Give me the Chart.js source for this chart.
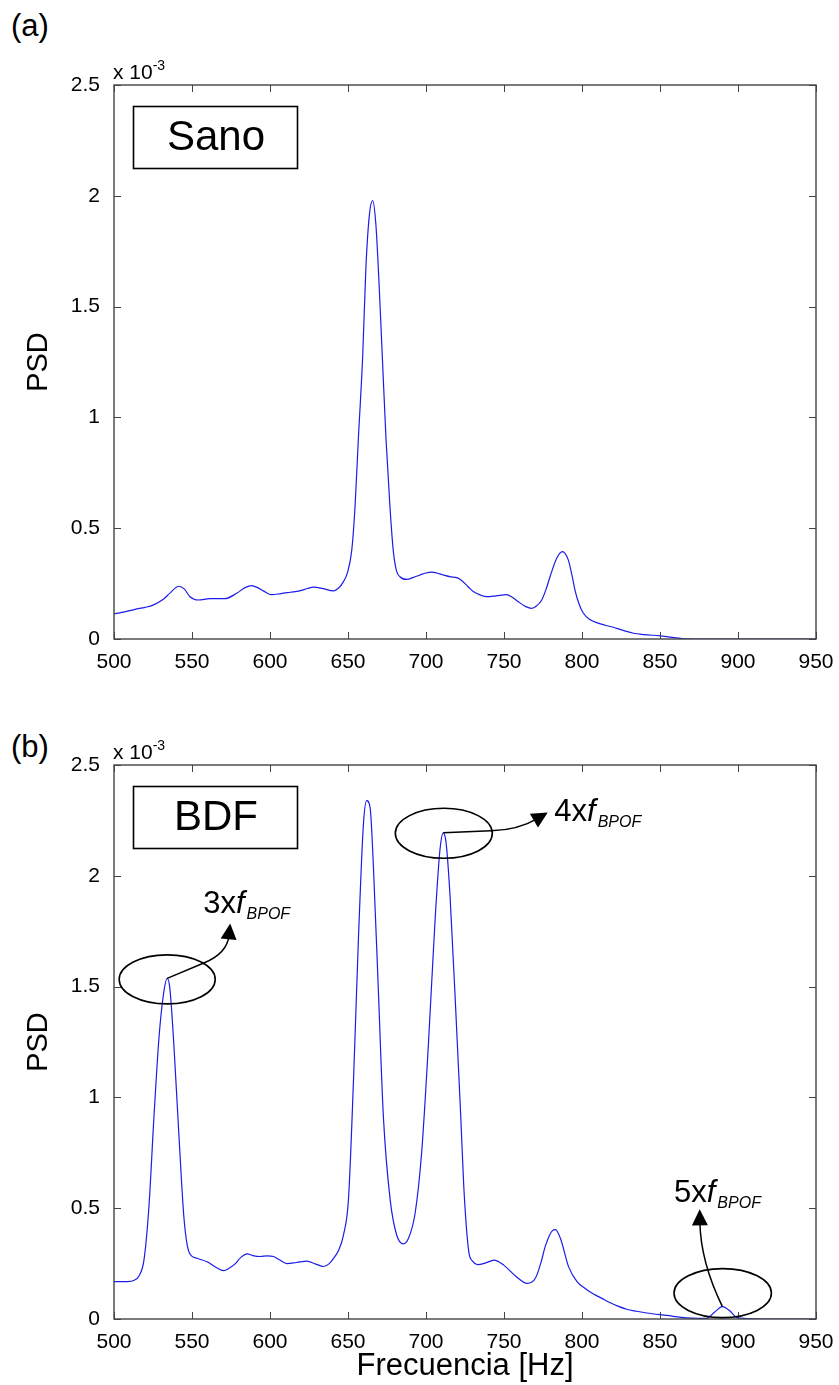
<!DOCTYPE html>
<html>
<head>
<meta charset="utf-8">
<script src="https://cdn.jsdelivr.net/npm/chart.js@4.4.1/dist/chart.umd.min.js"></script>
<style>
  html, body { margin: 0; padding: 0; background: #fff; overflow: hidden; }
  #page { position: relative; width: 839px; height: 1385px; font-family: 'Liberation Sans', Arial, sans-serif; }
  .panel { position: absolute; left: 0; width: 839px; }
  .tag { position: absolute; left: 11px; font-size: 31px; line-height: 31px; color: #000; }
</style>
</head>
<body>
<div id="page">
  <div class="tag" style="top:10px">(a)</div>
  <div class="panel" style="top:0;height:700px"><canvas id="chartSano"></canvas></div>
  <div class="tag" style="top:731px">(b)</div>
  <div class="panel" style="top:700px;height:685px"><canvas id="chartBdf"></canvas></div>
</div>

<script>
// axis ticks (frequency in Hz, PSD in units of 1e-3)
const xTicks = [500, 550, 600, 650, 700, 750, 800, 850, 900, 950];
const yTicks = [0, 0.5, 1, 1.5, 2, 2.5];

// healthy bearing spectrum
const freqSano = [500, 505, 513.5, 520, 525, 531.6, 536, 541.5, 545, 548.7, 554, 561.5, 571, 578.6, 584, 588.2,
  592, 596, 601, 607, 613, 619, 624, 628, 634, 640.5, 644, 647, 649.5, 652.4, 654.5, 656.6, 659.4, 661.5,
  663.7, 665.8, 667.9, 670, 672, 674.4, 676.9, 679, 681, 683.3, 687.6, 692, 696.2, 700, 703.6, 707, 711,
  716, 719.7, 722, 727, 730.3, 735, 739, 745, 751.7, 755, 759.2, 764, 767.7, 771, 774.2, 777, 779.5, 783.8,
  787.4, 791.2, 793.5, 795.5, 798, 800.9, 805, 809.4, 815, 820, 826, 833, 840, 850, 858, 867, 880, 900, 950];
const psdSano = [0.113, 0.120, 0.134, 0.143, 0.153, 0.179, 0.208, 0.238, 0.226, 0.191, 0.176, 0.182, 0.182, 0.206, 0.232, 0.241,
  0.232, 0.216, 0.200, 0.205, 0.211, 0.217, 0.228, 0.234, 0.227, 0.217, 0.230, 0.258, 0.296, 0.40, 0.597, 0.898, 1.274, 1.68,
  1.913, 1.978, 1.868, 1.59, 1.274, 0.898, 0.597, 0.40, 0.31, 0.281, 0.269, 0.278, 0.289, 0.298, 0.302, 0.298, 0.289,
  0.280, 0.277, 0.269, 0.236, 0.214, 0.198, 0.191, 0.195, 0.200, 0.190, 0.168, 0.146, 0.138, 0.150, 0.176, 0.225, 0.281, 0.364,
  0.394, 0.357, 0.29, 0.221, 0.160, 0.116, 0.088, 0.074, 0.062, 0.053, 0.040, 0.026, 0.020, 0.014, 0.007, 0.001, 0, 0, 0];

// outer race defect spectrum
const freqBdf = [500, 508.5, 513, 516, 519.2, 522.4, 525.6, 528.8, 531.6, 534.1, 535.8, 538.4, 541.6, 544.8, 547, 549,
  553.3, 559.7, 565, 570.4, 574, 577.8, 581, 585.3, 589, 593.8, 598, 602.3, 606, 610.9, 617, 623.7, 629, 634.3, 638,
  640.7, 644, 647.1, 650.3, 653.5, 656.7, 659.9, 662, 664.2, 666.3, 669.5, 672.7, 677, 681.2, 685.5, 688.7, 693,
  697.2, 701.5, 705.8, 709, 711.1, 712.8, 715.4, 719.6, 722.3, 724.2, 727.4, 730, 733, 738.3, 743.6, 750, 757.4,
  764.9, 770.2, 773.5, 776.6, 780.9, 783, 786.2, 791.5, 796.8, 802, 807.4, 813, 818.1, 823, 828.7, 835, 841.5,
  854.3, 867.1, 874, 879.8, 885.1, 890, 894.7, 898.9, 905.3, 915, 950];
const psdBdf = [0.169, 0.169, 0.175, 0.194, 0.266, 0.508, 0.911, 1.266, 1.460, 1.537, 1.492, 1.234, 0.831, 0.460, 0.33, 0.290,
  0.274, 0.258, 0.235, 0.218, 0.230, 0.250, 0.276, 0.294, 0.286, 0.282, 0.285, 0.282, 0.267, 0.250, 0.255, 0.261, 0.249, 0.237, 0.250,
  0.274, 0.31, 0.379, 0.540, 1.073, 1.718, 2.234, 2.339, 2.306, 2.040, 1.476, 0.911, 0.540, 0.379, 0.339, 0.363, 0.476,
  0.750, 1.234, 1.798, 2.121, 2.194, 2.153, 1.911, 1.315, 0.911, 0.60, 0.305, 0.26, 0.245, 0.253, 0.266, 0.242, 0.194,
  0.161, 0.185, 0.25, 0.331, 0.398, 0.403, 0.363, 0.234, 0.169, 0.138, 0.113, 0.092, 0.073, 0.058, 0.044, 0.035, 0.027,
  0.016, 0.005, 0.003, 0.003, 0.032, 0.056, 0.037, 0.008, 0.002, 0, 0];

// harmonics of the ball pass frequency marked on the defect spectrum
const bpofOrders = ['3', '4', '5'];
const bpofPeaks = [534.1, 711.1, 890];

// marker geometry in pixels, relative to the peak it points at
const markerStyle = {
  '3': { ell: [0, 1, 48, 24.5], line: [36.6, -15.4], ctrl: [60, -25], tip: [63, -55], text: [36, -65] },
  '4': { ell: [0.5, 0.5, 48.5, 25], line: [47.7, -2], ctrl: [75, -3], tip: [104.4, -20.4], text: [111, -12] },
  '5': { ell: [0.3, -13.5, 48.7, 24.5], line: null, ctrl: [-22, -45], tip: [-22.7, -97.3], text: [-48.4, -104.6] }
};

const FONT = "'Liberation Sans', Arial, sans-serif";

function drawArrowHead(ctx, from, to) {
  const ang = Math.atan2(to[1] - from[1], to[0] - from[0]);
  const len = 16, half = 8;
  ctx.beginPath();
  ctx.moveTo(to[0], to[1]);
  ctx.lineTo(to[0] - len * Math.cos(ang) + half * Math.sin(ang), to[1] - len * Math.sin(ang) - half * Math.cos(ang));
  ctx.lineTo(to[0] - len * Math.cos(ang) - half * Math.sin(ang), to[1] - len * Math.sin(ang) + half * Math.cos(ang));
  ctx.closePath();
  ctx.fill();
}

function drawHarmonicLabel(ctx, order, x, y) {
  ctx.textAlign = 'left';
  ctx.textBaseline = 'alphabetic';
  ctx.font = '31px ' + FONT;
  const lead = order + 'x';
  ctx.fillText(lead, x, y);
  let w = ctx.measureText(lead).width;
  ctx.font = 'italic 31px ' + FONT;
  ctx.fillText('f', x + w, y);
  w += ctx.measureText('f').width + 2;
  ctx.font = 'italic 16px ' + FONT;
  ctx.fillText('BPOF', x + w, y + 6);
}

const panelDecor = {
  id: 'panelDecor',
  afterDraw(chart, args, opts) {
    const { ctx, chartArea: a, scales: { x, y } } = chart;
    ctx.save();

    // inward tick marks on all four sides
    ctx.strokeStyle = '#444';
    ctx.lineWidth = 1;
    ctx.beginPath();
    xTicks.forEach(v => {
      const px = Math.round(x.getPixelForValue(v)) + 0.5;
      ctx.moveTo(px, a.bottom); ctx.lineTo(px, a.bottom - 7);
      ctx.moveTo(px, a.top); ctx.lineTo(px, a.top + 7);
    });
    yTicks.forEach(v => {
      const py = Math.round(y.getPixelForValue(v)) + 0.5;
      ctx.moveTo(a.left, py); ctx.lineTo(a.left + 7, py);
      ctx.moveTo(a.right, py); ctx.lineTo(a.right - 7, py);
    });
    ctx.stroke();

    // axes box
    ctx.lineWidth = 1.4;
    ctx.strokeRect(a.left, a.top, a.right - a.left, a.bottom - a.top);

    // exponent of the PSD axis
    ctx.fillStyle = '#000';
    ctx.textAlign = 'left';
    ctx.textBaseline = 'alphabetic';
    ctx.font = '21px ' + FONT;
    ctx.fillText('x 10', a.left - 1, a.top - 6);
    const ew = ctx.measureText('x 10').width;
    ctx.font = '14px ' + FONT;
    ctx.fillText('-3', a.left - 1 + ew, a.top - 15);

    // case name in a framed box
    ctx.strokeStyle = '#000';
    ctx.lineWidth = 1.6;
    ctx.strokeRect(a.left + 19.5, a.top + 21.5, 164, 62);
    ctx.font = '42px ' + FONT;
    ctx.textAlign = 'center';
    ctx.textBaseline = 'middle';
    ctx.fillText(opts.name, a.left + 102, a.top + 53);

    // harmonic markers: ellipse round the peak, curved arrow and label
    (opts.orders || []).forEach((order, i) => {
      const st = markerStyle[order];
      const f = opts.peaks[i];
      const ds = chart.data.datasets[0].data;
      let k = 0;
      ds.forEach((p, j) => { if (Math.abs(p.x - f) < Math.abs(ds[k].x - f)) k = j; });
      const px = x.getPixelForValue(ds[k].x);
      const py = y.getPixelForValue(ds[k].y);

      ctx.strokeStyle = '#000';
      ctx.fillStyle = '#000';
      ctx.lineWidth = 1.6;
      ctx.beginPath();
      ctx.ellipse(px + st.ell[0], py + st.ell[1], st.ell[2], st.ell[3], 0, 0, Math.PI * 2);
      ctx.stroke();

      const start = st.line ? [px + st.line[0], py + st.line[1]] : [px, py];
      const ctrl = [px + st.ctrl[0], py + st.ctrl[1]];
      const tip = [px + st.tip[0], py + st.tip[1]];
      const ang = Math.atan2(tip[1] - ctrl[1], tip[0] - ctrl[0]);
      const end = [tip[0] - 12 * Math.cos(ang), tip[1] - 12 * Math.sin(ang)];
      ctx.lineWidth = 1.5;
      ctx.beginPath();
      ctx.moveTo(px, py);
      if (st.line) ctx.lineTo(start[0], start[1]);
      ctx.quadraticCurveTo(ctrl[0], ctrl[1], end[0], end[1]);
      ctx.stroke();
      drawArrowHead(ctx, ctrl, tip);

      drawHarmonicLabel(ctx, order, px + st.text[0], py + st.text[1]);
    });

    ctx.restore();
  }
};

function makePanel(canvasId, freq, psd, cfg) {
  return new Chart(document.getElementById(canvasId).getContext('2d'), {
    type: 'line',
    data: {
      datasets: [{
        data: freq.map((f, i) => ({ x: f, y: psd[i] })),
        borderColor: '#1c1ce8',
        borderWidth: 1.2,
        pointRadius: 0,
        fill: false,
        cubicInterpolationMode: 'monotone'
      }]
    },
    options: {
      responsive: true,
      maintainAspectRatio: false,
      animation: false,
      devicePixelRatio: 1,
      layout: { padding: { top: cfg.top, right: 23, left: 0, bottom: 0 } },
      plugins: {
        legend: { display: false },
        tooltip: { enabled: false },
        panelDecor: { name: cfg.name, orders: cfg.orders, peaks: cfg.peaks }
      },
      scales: {
        x: {
          type: 'linear',
          min: 500,
          max: 950,
          afterBuildTicks: s => { s.ticks = xTicks.map(v => ({ value: v })); },
          afterFit: s => { s.height = cfg.xHeight; },
          grid: { display: false },
          border: { display: false },
          ticks: {
            color: '#000', padding: 3, maxRotation: 0, autoSkip: false,
            font: { family: FONT, size: 21 },
            callback: v => String(v)
          },
          title: {
            display: !!cfg.xTitle,
            text: cfg.xTitle || '',
            color: '#000',
            padding: { top: 0, bottom: 0 },
            font: { family: FONT, size: 31 }
          }
        },
        y: {
          type: 'linear',
          min: 0,
          max: 2.5,
          afterBuildTicks: s => { s.ticks = yTicks.map(v => ({ value: v })); },
          afterFit: s => { s.width = 114; },
          grid: { display: false },
          border: { display: false },
          ticks: {
            color: '#000', padding: 6,
            font: { family: FONT, size: 21 },
            callback: v => String(v)
          },
          title: {
            display: true,
            text: 'PSD',
            color: '#000',
            padding: { top: 22, bottom: 0 },
            font: { family: FONT, size: 29 }
          }
        }
      }
    },
    plugins: [panelDecor]
  });
}

makePanel('chartSano', freqSano, psdSano, { name: 'Sano', top: 85, xHeight: 61 });
makePanel('chartBdf', freqBdf, psdBdf, {
  name: 'BDF', top: 65, xHeight: 66, xTitle: 'Frecuencia [Hz]',
  orders: bpofOrders, peaks: bpofPeaks
});
</script>
</body>
</html>
